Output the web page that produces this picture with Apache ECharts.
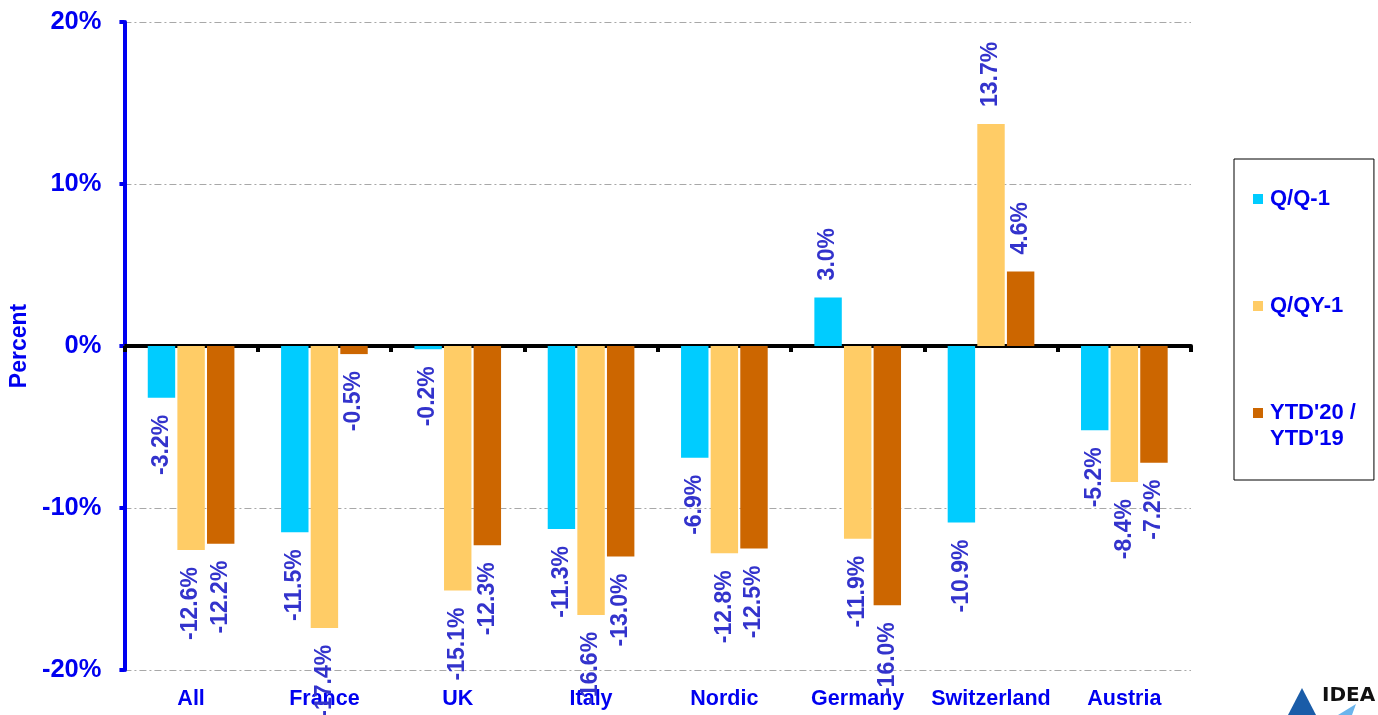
<!DOCTYPE html>
<html>
<head>
<meta charset="utf-8">
<script src="https://cdn.jsdelivr.net/npm/echarts@6/dist/echarts.min.js"></script>
<style>
html,body{margin:0;padding:0;background:#fff;}
#chart{width:1378px;height:715px;}
</style>
</head>
<body>
<div id="chart"></div>
<script>
const categories = ['All', 'France', 'UK', 'Italy', 'Nordic', 'Germany', 'Switzerland', 'Austria'];
const seriesNames = ['Q/Q-1', 'Q/QY-1', "YTD'20 / YTD'19"];
const qq1 = [-3.2, -11.5, -0.2, -11.3, -6.9, 3.0, -10.9, -5.2];
const qqy1 = [-12.6, -17.4, -15.1, -16.6, -12.8, -11.9, 13.7, -8.4];
const ytd = [-12.2, -0.5, -12.3, -13.0, -12.5, -16.0, 4.6, -7.2];
const yTicks = { min: -20, max: 20, interval: 10 };
const colors = ['#00CCFF', '#FFCC66', '#CC6600'];

const FONT = "'Liberation Sans', Arial, sans-serif";
const BLUE = '#0000F0';
const LABEL = '#3333CC';

function makeData(vals) {
  return vals.map(v => ({ value: v, label: { align: v < 0 ? 'right' : 'left' } }));
}

function makeSeries(name, vals, color) {
  return {
    name: name,
    type: 'bar',
    xAxisIndex: 0,
    data: makeData(vals),
    barCategoryGap: '35%',
    barGap: '8%',
    itemStyle: { color: color },
    label: {
      show: true,
      position: 'outside',
      rotate: 90,
      verticalAlign: 'middle',
      distance: 17,
      color: LABEL,
      fontFamily: FONT,
      fontWeight: 'bold',
      fontSize: 23,
      formatter: p => p.value.toFixed(1) + '%'
    }
  };
}

const chart = echarts.init(document.getElementById('chart'));
chart.setOption({
  animation: false,
  backgroundColor: '#fff',
  grid: { left: 120, right: 187, top: 22, bottom: 45, containLabel: false },
  legend: {
    orient: 'vertical',
    left: 1234,
    top: 159,
    padding: [1, 18, 28, 19],
    itemGap: 29,
    itemWidth: 10,
    itemHeight: 10,
    icon: 'rect',
    borderColor: '#000',
    borderWidth: 1,
    data: seriesNames,
    formatter: function (name) {
      if (name === seriesNames[2]) return '\u00a0\nYTD\'20 /\nYTD\'19';
      return '\u00a0\n' + name + '\n\u00a0';
    },
    textStyle: {
      color: BLUE,
      fontFamily: FONT,
      fontWeight: 'bold',
      fontSize: 22,
      lineHeight: 26,
      padding: [0, 0, 0, 2]
    }
  },
  xAxis: [
    {
      type: 'category',
      data: categories,
      position: 'bottom',
      axisLine: { show: false, onZero: false },
      axisTick: { show: false },
      axisLabel: {
        color: BLUE,
        fontFamily: FONT,
        fontWeight: 'bold',
        fontSize: 21.5,
        margin: 18,
        interval: 0
      }
    },
    {
      type: 'category',
      data: categories,
      position: 'top',
      axisLine: { show: true, onZero: true, lineStyle: { color: '#000', width: 4 } },
      axisTick: { show: true, inside: true, length: 6, interval: 0, lineStyle: { color: '#000', width: 4 } },
      axisLabel: { show: false },
      splitLine: { show: false }
    }
  ],
  yAxis: {
    type: 'value',
    min: yTicks.min,
    max: yTicks.max,
    interval: yTicks.interval,
    name: 'Percent',
    nameLocation: 'middle',
    nameRotate: 90,
    nameGap: 93,
    nameTextStyle: {
      color: BLUE,
      fontFamily: FONT,
      fontWeight: 'bold',
      fontSize: 23
    },
    axisLine: { show: true, lineStyle: { color: BLUE, width: 4 } },
    axisTick: { show: true, length: 5, lineStyle: { color: BLUE, width: 4 } },
    axisLabel: {
      formatter: '{value}%',
      color: BLUE,
      fontFamily: FONT,
      fontWeight: 'bold',
      fontSize: 25.5,
      margin: 23
    },
    splitLine: {
      show: true,
      lineStyle: { color: '#a8a8a8', width: 1, type: [7, 3, 2, 3] }
    }
  },
  series: [
    makeSeries(seriesNames[0], qq1, colors[0]),
    makeSeries(seriesNames[1], qqy1, colors[1]),
    makeSeries(seriesNames[2], ytd, colors[2])
  ],
  graphic: [
    {
      type: 'polygon',
      shape: { points: [[1302, 688], [1316, 715], [1288, 715]] },
      style: { fill: '#1a5ca8' }
    },
    {
      type: 'polygon',
      shape: { points: [[1356, 704], [1352, 715], [1338, 715]] },
      style: { fill: '#6ab4ec' }
    },
    {
      type: 'text',
      left: 1322,
      top: 686,
      style: {
        text: 'IDEA',
        fill: '#111',
        font: "bold 20px 'DejaVu Sans', sans-serif"
      }
    }
  ]
});
</script>
</body>
</html>
